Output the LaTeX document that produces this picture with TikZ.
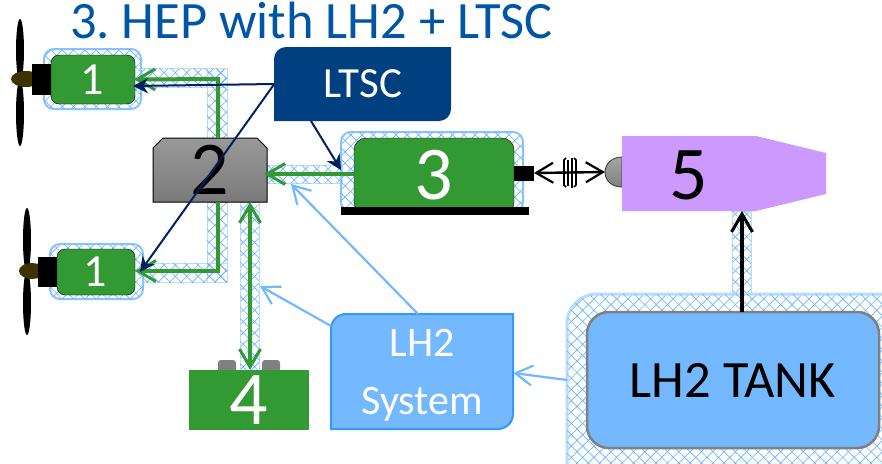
\documentclass[tikz,border=0pt]{standalone}
\usepackage{fontspec}
\setmainfont{Carlito}
\usetikzlibrary{arrows.meta,patterns.meta}
\definecolor{hatchblue}{HTML}{66B3FF}
\definecolor{pipeblue}{HTML}{B8DCFF}
\definecolor{lhblue}{HTML}{74B8FF}
\definecolor{lhedge}{HTML}{3399FF}
\definecolor{motorgreen}{HTML}{339933}
\definecolor{ltscblue}{HTML}{004080}
\definecolor{navyline}{HTML}{002060}
\definecolor{fuelpurple}{HTML}{CC99FF}
\definecolor{hubbrown}{HTML}{3D3300}
\definecolor{titleblue}{HTML}{0055A5}
\tikzset{
	hatched/.style={pattern={Lines[angle=45,distance=8pt,line width=.65pt]},pattern color=hatchblue,
		postaction={pattern={Lines[angle=-45,distance=8pt,line width=.65pt]},pattern color=hatchblue}},
	pipe/.style={hatched,draw=pipeblue,line width=1pt},
	jacket/.style={hatched,draw=lhblue!85,line width=2pt,rounded corners=10pt},
	greenbox/.style={fill=motorgreen,rounded corners=8pt},
	label/.style={inner sep=0pt,text=white},
	bigbarb/.tip={Straight Barb[length=18pt,width=21pt,line width=3pt]},
	midbarb/.tip={Straight Barb[length=17pt,width=20pt,line width=2.2pt]},
	greenflow/.style={draw=motorgreen,line width=4pt,-bigbarb},
	shaftflow/.style={draw=black,line width=3.6pt,-bigbarb},
	ctrl/.style={draw=navyline,line width=2pt,-{Stealth[length=15pt,width=15pt]}},
	h2line/.style={draw=lhblue,line width=2.2pt,-midbarb},
}
\newcommand{\bigdigit}{\fontsize{76}{76}\selectfont}
\newcommand{\smalldigit}{\fontsize{46}{46}\selectfont}
\begin{document}
\begin{tikzpicture}[x=1pt,y=-1pt]
	\clip (0,0) rectangle (882,463);
	\fill [white] (0,0) rectangle (882,463);
	\node [anchor=base west,inner sep=0pt,text=titleblue,font=\fontsize{52.5}{52.5}\selectfont\frenchspacing] (title) at (70,38) {3. HEP with LH2 + LTSC};
	% pipes
	\draw [pipe] (141,68) rectangle (227,87);
	\draw [pipe] (207,68) rectangle (227,138);
	\draw [pipe] (207,202) rectangle (227,282);
	\draw [pipe] (142,263) rectangle (227,282);
	\draw [pipe] (240,202) rectangle (259,370);
	\draw [pipe] (267,165) rectangle (342,183);
	\draw [pipe] (732,211) rectangle (751,293);
	% insulated jackets
	\draw [jacket] (44,49) rectangle (141,109);
	\draw [jacket] (50,244) rectangle (143,299);
	\draw [jacket] (341,132) rectangle (523,212);
	\draw [hatched,draw=pipeblue,line width=3pt,rounded corners=30pt] (567,294) rectangle (920,500);
	% top propeller
	\fill [black] (20,50) ellipse (4 and 31);
	\fill [black] (20,113) ellipse (4 and 33);
	\fill [hubbrown] (26,79) ellipse (15 and 8);
	\fill [black] (32,64) rectangle (54,95);
	% bottom propeller
	\fill [black] (27,240) ellipse (4 and 32);
	\fill [black] (27,303) ellipse (4 and 32);
	\fill [hubbrown] (32,271) ellipse (13 and 8);
	\fill [black] (38,257) rectangle (60,287);
	% motors
	\draw [greenbox] (51,55) rectangle (135,104);
	\node [label,font=\smalldigit,minimum width=84pt,minimum height=49pt] (motorA) at (92,79.5) {1};
	\draw [greenbox] (57,249) rectangle (135,295);
	\node [label,font=\smalldigit,minimum width=78pt,minimum height=46pt] (motorB) at (95,272) {1};
	\draw [greenbox,rounded corners=12pt] (354,138) rectangle (514,214);
	\fill [black] (341,207) rectangle (529,215);
	\fill [black] (514,166) rectangle (534,181);
	\node [label,font=\bigdigit,minimum width=160pt,minimum height=70pt] (motorC) at (434,175) {3};
	\coordinate (stub) at (534,173);
	% converter
	\draw [black,top color=black!40,bottom color=black!52,line width=1pt] (153,148) -- (163,138) -- (257,138) -- (267,148) -- (267,202) -- (153,202) -- cycle;
	\node [label,text=black,font=\bigdigit,minimum width=114pt,minimum height=64pt] (conv) at (210,170) {2};
	% battery
	\fill [black!50,rounded corners=3pt] (218,360) rectangle (236,372);
	\fill [black!50,rounded corners=3pt] (262,360) rectangle (280,372);
	\node [label,fill=motorgreen,font=\bigdigit,minimum width=120pt,minimum height=60pt] (batt) at (249,400) {4};
	% ltsc
	\fill [ltscblue] (274,121) [rounded corners=12pt] -- (274,47) [sharp corners] -- (451,47) [rounded corners=12pt] -- (451,121) [sharp corners] -- cycle;
	\node [label,font=\fontsize{43}{43}\selectfont,minimum width=177pt,minimum height=74pt] (ltsc) at (363,84) {LTSC};
	% hydrogen system
	\draw [fill=lhblue,draw=lhedge,line width=2pt] (331,429) [rounded corners=15pt] -- (331,314) [sharp corners] -- (513,314) [rounded corners=15pt] -- (513,429) [sharp corners] -- cycle;
	\node [label,align=center,font=\fontsize{42}{58}\selectfont,minimum width=182pt,minimum height=115pt] (hsys) at (422,375) {LH2\\System};
	% tank
	\draw [fill=lhblue,draw=black!50,line width=2.5pt,rounded corners=22pt] (587,312) rectangle (879,448);
	\node [label,text=black,font=\fontsize{52.5}{52.5}\selectfont,minimum width=292pt,minimum height=136pt] (tank) at (733,380) {LH2 TANK};
	% turbine
	\draw [top color=black!35,bottom color=black!50,draw=black!80,line width=.8pt] (622,157) .. controls (612,157) and (605,164) .. (605,172) .. controls (605,181) and (612,187) .. (622,187) -- cycle;
	\fill [fuelpurple] (622,136) -- (756,136) -- (826,153) -- (826,194) -- (756,211) -- (622,211) -- cycle;
	\node [label,text=black,font=\bigdigit,minimum width=134pt,minimum height=75pt] (gasturb) at (689,175.5) {5};
	\coordinate (dome) at (605,172);
	% power lines
	\coordinate (bendA) at (218,79);
	\coordinate (bendB) at (218,271);
	\coordinate (convA) at (218,138);
	\coordinate (convB) at (218,202);
	\coordinate (convC) at (250,202);
	\coordinate (battTop) at (250,370);
	\coordinate (tankTop) at (742,312);
	\coordinate (turbBot) at (742,211);
	\coordinate (motorCin) at (354,174);
	\draw [greenflow] (convA) -- (bendA) -- (motorA.east);
	\draw [greenflow] (convB) -- (bendB) -- (135,271);
	\draw [greenflow,shorten >=-3pt] (motorCin) -- (motorCin -| conv.east);
	\draw [greenflow,bigbarb-bigbarb] (convC) -- (battTop);
	\draw [shaftflow] (tankTop) -- (turbBot);
	% shaft and clutch
	\draw [black,line width=2.4pt,midbarb-midbarb] (stub) -- (dome);
	\draw [black,line width=1.6pt] (566,158) -- (564,160) -- (564,185) -- (566,187);
	\draw [black,line width=1.6pt] (574,158) -- (576,160) -- (576,185) -- (574,187);
	\draw [black,line width=1.6pt] (568,160) -- (568,186);
	\draw [black,line width=1.6pt] (572,158) -- (572,188);
	% control lines
	\coordinate (ctrlA) at (133,86);
	\coordinate (ctrlB) at (140,272);
	\coordinate (ctrlC) at (311,121);
	\coordinate (ctrlD) at (341,170);
	\draw [ctrl] (ltsc.west) -- (ctrlA);
	\draw [ctrl] (ltsc.west) -- (ctrlB);
	\draw [ctrl] (ctrlC) -- (ctrlD);
	% hydrogen lines
	\coordinate (hsysA) at (418,314);
	\coordinate (hsysB) at (331,326);
	\coordinate (tipA) at (291,184);
	\coordinate (tipB) at (260,286);
	\coordinate (jacketW) at (567,380);
	\draw [h2line] (hsysA) -- (tipA);
	\draw [h2line] (hsysB) -- (tipB);
	\draw [h2line] (jacketW) -- (hsys.east |- 0,373);
\end{tikzpicture}
\end{document}
